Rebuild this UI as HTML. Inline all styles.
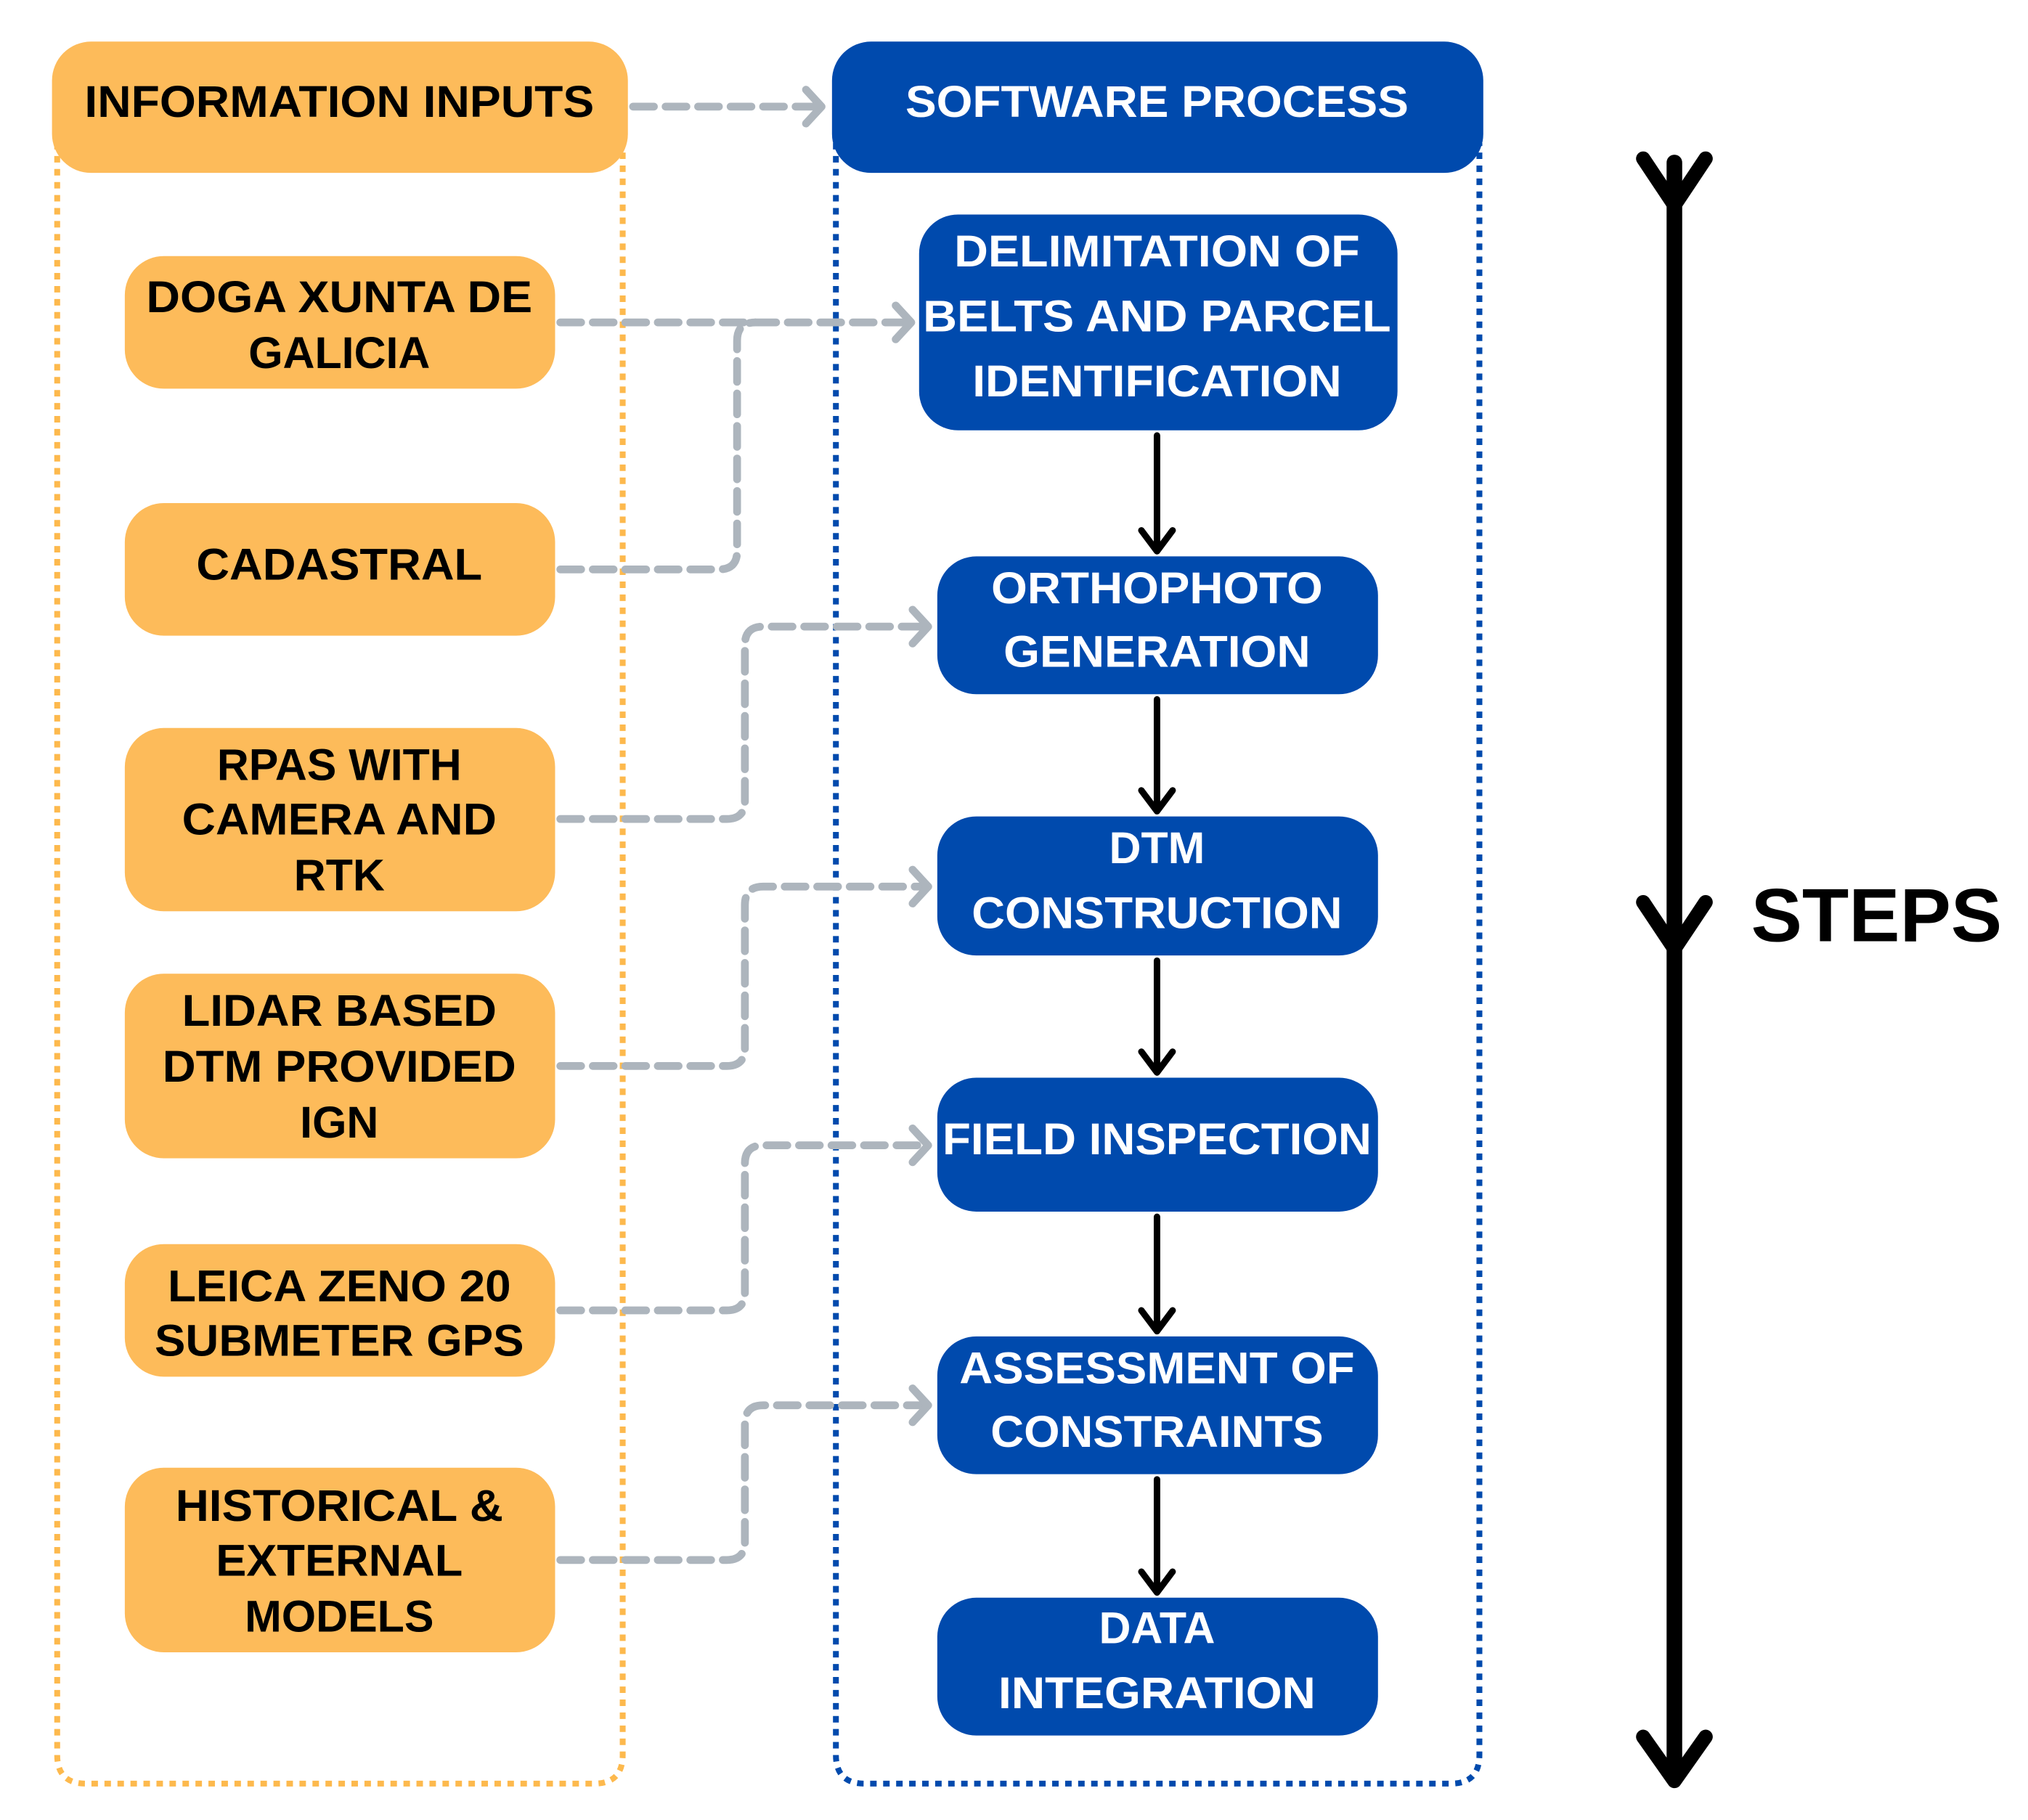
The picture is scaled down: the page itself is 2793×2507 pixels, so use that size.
<!DOCTYPE html>
<html><head><meta charset="utf-8"><style>html,body{margin:0;padding:0;background:#fff}svg{display:block}</style></head>
<body>
<svg width="2793" height="2507" viewBox="0 0 1560 1400" preserveAspectRatio="none" xmlns="http://www.w3.org/2000/svg" font-family="Liberation Sans, Arial, sans-serif" font-weight="bold">
<defs>
<marker id="ga" markerWidth="10" markerHeight="10" refX="8" refY="5" orient="auto" markerUnits="userSpaceOnUse" viewBox="0 0 10 10" overflow="visible">
<path d="M-4,-8 L8,5 L-4,18" transform="translate(0,0)" fill="none" stroke="#adb5bd" stroke-width="6" stroke-linecap="round" stroke-linejoin="round"/>
</marker>
</defs>
<!-- containers -->
<path d="M44,110 V1350 Q44,1372 66,1372 H457 Q479,1372 479,1350 V110" fill="none" stroke="#fdb94d" stroke-width="4.5" stroke-dasharray="5,5"/>
<path d="M643,110 V1350 Q643,1372 665,1372 H1116 Q1138,1372 1138,1350 V110" fill="none" stroke="#004aad" stroke-width="4.5" stroke-dasharray="5,5"/>
<!-- header boxes -->
<rect x="40" y="32" width="443" height="101" rx="30" fill="#fdbb5a"/>
<text x="261" y="90" font-size="34" text-anchor="middle" textLength="392" lengthAdjust="spacingAndGlyphs">INFORMATION INPUTS</text>
<rect x="640" y="32" width="501" height="101" rx="30" fill="#004aad"/>
<text x="890" y="90" font-size="34" fill="#fff" text-anchor="middle" textLength="387" lengthAdjust="spacingAndGlyphs">SOFTWARE PROCESS</text>
<!-- gray connectors -->
<g fill="none" stroke="#adb5bd" stroke-width="6" stroke-dasharray="16,9" stroke-linecap="round">
<path d="M487,82 H632" marker-end="url(#ga)"/>
<path d="M431,248 H701" marker-end="url(#ga)"/>
<path d="M431,438 H553 Q567,438 567,424 V262 Q567,248 581,248"/>
<path d="M431,630 H559 Q573,630 573,616 V496 Q573,482 587,482 H714" marker-end="url(#ga)"/>
<path d="M431,820 H559 Q573,820 573,806 V696 Q573,682 587,682 H714" marker-end="url(#ga)"/>
<path d="M431,1008 H559 Q573,1008 573,994 V895 Q573,881 587,881 H714" marker-end="url(#ga)"/>
<path d="M431,1200 H559 Q573,1200 573,1186 V1095 Q573,1081 587,1081 H714" marker-end="url(#ga)"/>
</g>
<!-- orange boxes -->
<g fill="#fdbb5a">
<rect x="96" y="197" width="331" height="102" rx="30"/>
<rect x="96" y="387" width="331" height="102" rx="30"/>
<rect x="96" y="560" width="331" height="141" rx="30"/>
<rect x="96" y="749" width="331" height="142" rx="30"/>
<rect x="96" y="957" width="331" height="102" rx="30"/>
<rect x="96" y="1129" width="331" height="142" rx="30"/>
</g>
<g font-size="34" text-anchor="middle" fill="#000">
<text x="261" y="240" textLength="297" lengthAdjust="spacingAndGlyphs">DOGA XUNTA DE</text>
<text x="261" y="283">GALICIA</text>
<text x="261" y="446" textLength="220" lengthAdjust="spacingAndGlyphs">CADASTRAL</text>
<text x="261" y="600">RPAS WITH</text>
<text x="261" y="642" textLength="242" lengthAdjust="spacingAndGlyphs">CAMERA AND</text>
<text x="261" y="685">RTK</text>
<text x="261" y="789" textLength="242" lengthAdjust="spacingAndGlyphs">LIDAR BASED</text>
<text x="261" y="832" textLength="272" lengthAdjust="spacingAndGlyphs">DTM PROVIDED</text>
<text x="261" y="875">IGN</text>
<text x="261" y="1001" textLength="264" lengthAdjust="spacingAndGlyphs">LEICA ZENO 20</text>
<text x="261" y="1043" textLength="284" lengthAdjust="spacingAndGlyphs">SUBMETER GPS</text>
<text x="261" y="1170" textLength="252" lengthAdjust="spacingAndGlyphs">HISTORICAL &amp;</text>
<text x="261" y="1212" textLength="190" lengthAdjust="spacingAndGlyphs">EXTERNAL</text>
<text x="261" y="1255">MODELS</text>
</g>
<!-- blue boxes -->
<g fill="#004aad">
<rect x="707" y="165" width="368" height="166" rx="30"/>
<rect x="721" y="428" width="339" height="106" rx="30"/>
<rect x="721" y="628" width="339" height="107" rx="30"/>
<rect x="721" y="829" width="339" height="103" rx="30"/>
<rect x="721" y="1028" width="339" height="106" rx="30"/>
<rect x="721" y="1229" width="339" height="106" rx="30"/>
</g>
<g font-size="34" text-anchor="middle" fill="#fff">
<text x="890" y="205" textLength="312" lengthAdjust="spacingAndGlyphs">DELIMITATION OF</text>
<text x="890" y="255" textLength="360" lengthAdjust="spacingAndGlyphs">BELTS AND PARCEL</text>
<text x="890" y="305" textLength="284" lengthAdjust="spacingAndGlyphs">IDENTIFICATION</text>
<text x="890" y="464" textLength="255" lengthAdjust="spacingAndGlyphs">ORTHOPHOTO</text>
<text x="890" y="513" textLength="236" lengthAdjust="spacingAndGlyphs">GENERATION</text>
<text x="890" y="664">DTM</text>
<text x="890" y="714" textLength="285" lengthAdjust="spacingAndGlyphs">CONSTRUCTION</text>
<text x="890" y="888" textLength="330" lengthAdjust="spacingAndGlyphs">FIELD INSPECTION</text>
<text x="890" y="1064" textLength="304" lengthAdjust="spacingAndGlyphs">ASSESSMENT OF</text>
<text x="890" y="1113" textLength="256" lengthAdjust="spacingAndGlyphs">CONSTRAINTS</text>
<text x="890" y="1264">DATA</text>
<text x="890" y="1314" textLength="244" lengthAdjust="spacingAndGlyphs">INTEGRATION</text>
</g>
<!-- black step arrows -->
<g fill="none" stroke="#000" stroke-width="5" stroke-linecap="round" stroke-linejoin="round">
<path d="M890,335 V424 M878,408 L890,424 L902,408"/>
<path d="M890,538 V624 M878,608 L890,624 L902,608"/>
<path d="M890,739 V825 M878,809 L890,825 L902,809"/>
<path d="M890,936 V1024 M878,1008 L890,1024 L902,1008"/>
<path d="M890,1138 V1225 M878,1209 L890,1225 L902,1209"/>
</g>
<!-- big STEPS arrow -->
<g fill="none" stroke="#000" stroke-linecap="round" stroke-linejoin="round">
<path d="M1288,125 V1365" stroke-width="12"/>
<path d="M1264,122 L1288,158 L1312,122" stroke-width="11"/>
<path d="M1264,694 L1288,730 L1312,694" stroke-width="11"/>
<path d="M1264,1336 L1288,1370 L1312,1336" stroke-width="11"/>
</g>
<text x="1347" y="724" font-size="58" fill="#000" textLength="193" lengthAdjust="spacingAndGlyphs">STEPS</text>
</svg>
</body></html>
